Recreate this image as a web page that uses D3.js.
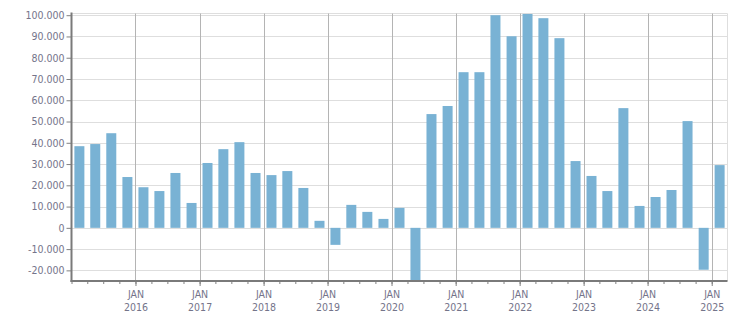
<!DOCTYPE html>
<html>
<head>
<meta charset="utf-8">
<script src="https://cdn.jsdelivr.net/npm/d3@7"></script>
<style>
  body { margin: 0; background: #fff; }
  text { font-family: "DejaVu Sans Condensed", "DejaVu Sans", sans-serif; font-size: 10.5px; fill: #74748a; }
</style>
</head>
<body>
<div id="chart"></div>
<script>
// quarterly values, first bar = Q1 2015
var startYear = 2015;
var values = [
  38400, 39400, 44500, 23900,
  19100, 17300, 25800, 11700,
  30500, 37000, 40300, 25800,
  24800, 26700, 18750, 3300,
  -8000, 10800, 7500, 4200,
  9400, -25000, 53500, 57300,
  73200, 73200, 100000, 90100,
  100600, 98600, 89200, 31400,
  24400, 17300, 56300, 10300,
  14500, 17800, 50200, -19700,
  29500
];
var yearLabels = ["2016", "2017", "2018", "2019", "2020", "2021", "2022", "2023", "2024", "2025"];
var monthLabel = "JAN";
var yTicks = [-20000, -10000, 0, 10000, 20000, 30000, 40000, 50000, 60000, 70000, 80000, 90000, 100000];

var width = 751, height = 313;
var margin = {top: 13.5, right: 23.5, bottom: 32, left: 71.5};

var quarters = values.map(function(v, i) {
  return {start: d3.timeMonth.offset(new Date(startYear, 0, 1), 3 * i), value: v};
});

var svg = d3.select("#chart").append("svg")
  .attr("width", width)
  .attr("height", height);

var x = d3.scaleTime()
  .domain([new Date(startYear, 0, 1), d3.timeMonth.offset(quarters[quarters.length - 1].start, 3)])
  .range([margin.left, width - margin.right]);

var y = d3.scaleLinear()
  .domain([-25000, 100800])
  .range([height - margin.bottom, margin.top]);

var fmt = d3.formatLocale({decimal: ",", thousands: ".", grouping: [3], currency: ["", ""], minus: "-"}).format(",d");

var yearDates = yearLabels.map(function(d) { return new Date(+d, 0, 1); });

svg.append("defs").append("clipPath").attr("id", "plot-clip")
  .append("rect")
  .attr("x", margin.left).attr("y", margin.top)
  .attr("width", width - margin.right - margin.left)
  .attr("height", height - margin.bottom - margin.top);

// horizontal grid
svg.append("g").selectAll("line").data(yTicks).enter().append("line")
  .attr("x1", margin.left).attr("x2", width - margin.right)
  .attr("y1", function(d) { return Math.round(y(d)) + 0.5; })
  .attr("y2", function(d) { return Math.round(y(d)) + 0.5; })
  .style("stroke", "#dedede");

// frame top & right
svg.append("path")
  .attr("d", "M" + margin.left + "," + margin.top + "H" + (width - margin.right) + "V" + (height - margin.bottom))
  .style("fill", "none").style("stroke", "#dedede");

// year grid
svg.append("g").selectAll("line").data(yearDates).enter().append("line")
  .attr("x1", function(d) { return Math.round(x(d)) + 0.5; })
  .attr("x2", function(d) { return Math.round(x(d)) + 0.5; })
  .attr("y1", margin.top).attr("y2", height - margin.bottom)
  .style("stroke", "#b4b4b4");

// bars
var barW = 10;
svg.append("g").attr("clip-path", "url(#plot-clip)")
  .selectAll("rect").data(quarters).enter().append("rect")
  .attr("x", function(d) {
    var c = (x(d.start) + x(d3.timeMonth.offset(d.start, 3))) / 2;
    return c - barW / 2;
  })
  .attr("width", barW)
  .attr("y", function(d) { return y(Math.max(0, d.value)); })
  .attr("height", function(d) { return Math.abs(y(d.value) - y(0)); })
  .style("fill", "#79b2d4");

// y axis
var yAxis = svg.append("g")
  .attr("transform", "translate(" + margin.left + ",0)")
  .call(d3.axisLeft(y).tickValues(yTicks).tickSize(5).tickPadding(2).tickFormat(fmt));
yAxis.select(".domain").remove();
yAxis.selectAll(".tick line").style("stroke", "#808080");
yAxis.selectAll("text").style("font-size", null).style("font-family", null).attr("fill", null);
svg.append("line")
  .attr("x1", margin.left).attr("x2", margin.left)
  .attr("y1", margin.top - 1).attr("y2", height - margin.bottom + 1)
  .style("stroke", "#7a7a7a").style("stroke-width", 2);

// x axis: quarter ticks
var xBase = height - margin.bottom;
var minor = svg.append("g")
  .attr("transform", "translate(0," + (xBase + 1) + ")")
  .call(d3.axisBottom(x).tickValues(quarters.map(function(d) { return d.start; })).tickSize(2).tickFormat(""));
minor.select(".domain").remove();
minor.selectAll(".tick line").style("stroke", "#808080");

var major = svg.append("g")
  .attr("transform", "translate(0," + (xBase + 1) + ")")
  .call(d3.axisBottom(x).tickValues(yearDates).tickSize(4).tickPadding(5).tickFormat(""));
major.select(".domain").remove();
major.selectAll(".tick line").style("stroke", "#808080");
major.selectAll(".tick").append("text")
  .attr("text-anchor", "middle")
  .each(function(d, i) {
    var t = d3.select(this);
    t.append("tspan").attr("x", 0).attr("y", 16).text(monthLabel);
    t.append("tspan").attr("x", 0).attr("y", 29).text(yearLabels[i]);
  });

svg.append("line")
  .attr("x1", margin.left - 1).attr("x2", width - margin.right)
  .attr("y1", xBase).attr("y2", xBase)
  .style("stroke", "#7a7a7a").style("stroke-width", 2);
</script>
</body>
</html>
